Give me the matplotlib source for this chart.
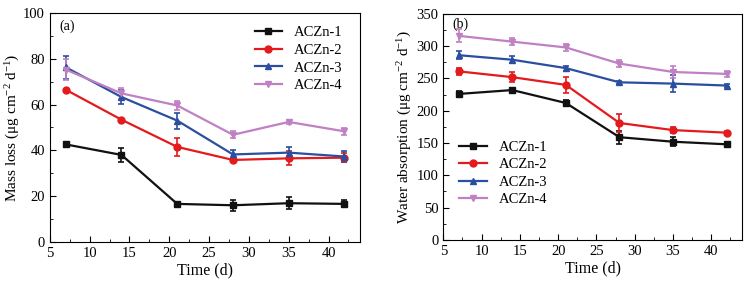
import matplotlib
matplotlib.use("Agg")
import matplotlib.pyplot as plt
import numpy as np
from matplotlib.ticker import MultipleLocator

plt.rcParams['font.family'] = ['Liberation Serif', 'DejaVu Serif']
plt.rcParams['mathtext.fontset'] = 'custom'
plt.rcParams['mathtext.rm'] = 'Liberation Serif'
plt.rcParams['mathtext.it'] = 'Liberation Serif:italic'
plt.rcParams['mathtext.default'] = 'regular'

days = [7, 14, 21, 28, 35, 42]
names = ['ACZn-1', 'ACZn-2', 'ACZn-3', 'ACZn-4']

mass1 = [42.6, 38.0, 16.6, 16.0, 16.9, 16.6]
mass2 = [66.5, 53.4, 41.5, 35.8, 36.5, 36.8]
mass3 = [76.3, 63.3, 53.0, 38.2, 39.0, 37.3]
mass4 = [75.3, 64.9, 59.6, 46.8, 52.4, 48.3]
mass1_err = [1.0, 3.0, 1.0, 2.5, 2.5, 1.5]
mass2_err = [0.5, 0.3, 4.0, 1.0, 3.0, 2.0]
mass3_err = [5.0, 3.0, 3.5, 2.0, 2.5, 2.5]
mass4_err = [4.5, 2.5, 2.0, 1.5, 1.0, 1.5]

water1 = [226, 232, 212, 159, 152, 148]
water2 = [261, 252, 240, 181, 170, 166]
water3 = [286, 279, 266, 244, 242, 239]
water4 = [316, 307, 298, 273, 260, 257]
water1_err = [5, 3, 4, 10, 7, 4]
water2_err = [5, 8, 12, 14, 5, 3]
water3_err = [6, 5, 4, 2, 13, 3]
water4_err = [10, 5, 5, 5, 10, 5]

colors = ['#111111', '#e41a1c', '#2a4ea0', '#c080c4']
markers = ['s', 'o', '^', 'v']

fig = plt.figure(figsize=(7.54, 2.89), dpi=100)
ax1 = fig.add_axes([0.066, 0.163, 0.412, 0.792])
ax2 = fig.add_axes([0.588, 0.170, 0.396, 0.782])


def draw(ax, series, errs):
    lines = []
    for s, e, c, m, n in zip(series, errs, colors, markers, names):
        eb = ax.errorbar(days, s, yerr=e, color=c, marker=m, markersize=5, lw=1.6,
                         capsize=2.5, elinewidth=1.2, capthick=1.2, label=n)
        lines.append(eb[0])
    ax.set_xlim(5, 44)
    ax.xaxis.set_major_locator(MultipleLocator(5))
    ax.xaxis.set_minor_locator(MultipleLocator(2.5))
    ax.tick_params(which='both', direction='in', top=False, right=False, labelsize=10.5)
    ax.tick_params(which='major', length=4)
    ax.tick_params(which='minor', length=2.5)
    ax.set_xlabel('Time (d)', fontsize=11.5, labelpad=2)
    return lines


h1 = draw(ax1, [mass1, mass2, mass3, mass4], [mass1_err, mass2_err, mass3_err, mass4_err])
ax1.set_ylim(0, 100)
ax1.yaxis.set_major_locator(MultipleLocator(20))
ax1.yaxis.set_minor_locator(MultipleLocator(10))
ax1.set_ylabel('Mass loss (μg cm$^{-2}$ d$^{-1}$)', fontsize=11, labelpad=1)
ax1.text(0.03, 0.97, '(a)', transform=ax1.transAxes, ha='left', va='top', fontsize=10)
ax1.legend(h1, names, loc='upper right', frameon=False, fontsize=10.5, handlelength=1.9,
           bbox_to_anchor=(0.985, 1.0), labelspacing=0.3)

h2 = draw(ax2, [water1, water2, water3, water4], [water1_err, water2_err, water3_err, water4_err])
ax2.set_ylim(0, 350)
ax2.yaxis.set_major_locator(MultipleLocator(50))
ax2.yaxis.set_minor_locator(MultipleLocator(25))
ax2.set_ylabel('Water absorption (μg cm$^{-2}$ d$^{-1}$)', fontsize=11, labelpad=2)
ax2.text(0.03, 0.985, '(b)', transform=ax2.transAxes, ha='left', va='top', fontsize=10)
leg = ax2.legend(h2, names, loc='lower left', frameon=True, fontsize=10.5, handlelength=1.9,
                 bbox_to_anchor=(0.01, 0.09), labelspacing=0.3, fancybox=False)
leg.get_frame().set_edgecolor('none')

fig.savefig('out.png', dpi=100)
